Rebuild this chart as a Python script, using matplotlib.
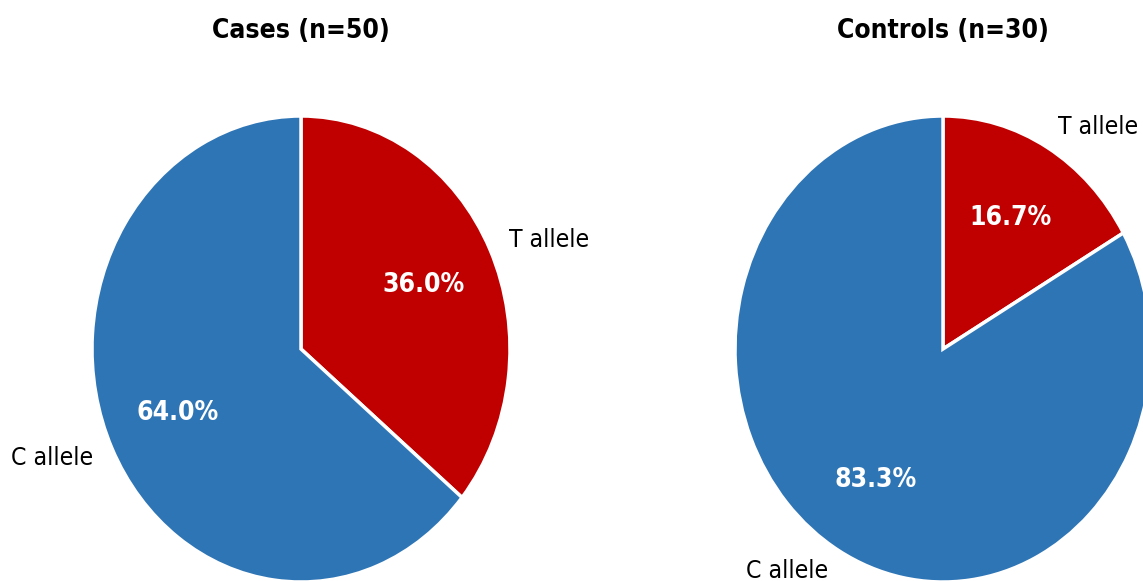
import matplotlib
matplotlib.use("Agg")
import matplotlib.pyplot as plt

labels = ["T allele", "C allele"]
cases = [36.0, 64.0]
controls = [16.7, 83.3]
titles = ["Cases (n=50)", "Controls (n=30)"]
colors = ["#C00000", "#2E75B6"]

W, H = 1143, 581
fig = plt.figure(figsize=(W / 100, H / 100), dpi=100)

# axes boxes in pixels: left, top, width, height (pies are stretched vertically)
boxes = [(92, 116, 418, 466), (735, 116, 416, 466)]
title_x = [301, 943]

for data, title, (x0, y0, w, h), tx in zip([cases, controls], titles, boxes, title_x):
    ax = fig.add_axes([x0 / W, 1 - (y0 + h) / H, w / W, h / H])
    wedges, texts, autotexts = ax.pie(
        data, labels=labels, colors=colors, startangle=90, counterclock=False,
        autopct="%1.1f%%", pctdistance=0.65, labeldistance=1.1,
        wedgeprops=dict(edgecolor="white", linewidth=2.5),
        textprops=dict(fontsize=17.7, fontstretch="condensed"))
    for t in autotexts:
        t.set_color("white")
        t.set_fontweight("bold")
        t.set_fontsize(19)
    ax.set_aspect("auto")
    ax.set_xlim(-1, 1)
    ax.set_ylim(-1, 1)
    ax.axis("off")
    fig.text(tx / W, 1 - 31 / H, title, ha="center", va="center",
             fontsize=19, fontweight="bold", fontstretch="condensed")

fig.savefig("out.png", dpi=100)
